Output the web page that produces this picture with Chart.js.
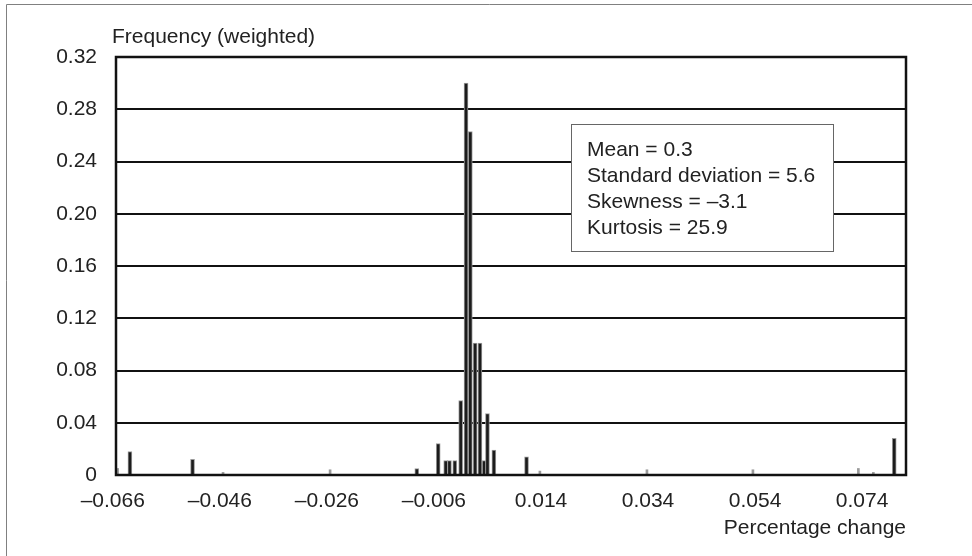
<!DOCTYPE html>
<html>
<head>
<meta charset="utf-8">
<title>Frequency (weighted)</title>
<script src="https://cdn.jsdelivr.net/npm/chart.js@4/dist/chart.umd.min.js"></script>
<style>
    html, body { margin: 0; padding: 0; background: #fff; }
    canvas { display: block; }
</style>
</head>
<body>
<canvas id="histChart" width="972" height="556"></canvas>
<script>
// Percentage change (bar centres) and weighted frequency
const barPos = [-0.0628, -0.0511, -0.0092, -0.0052, -0.0038, -0.0031, -0.0021, -0.0010, 0.0000, 0.0008, 0.0017, 0.0026, 0.0034, 0.0040, 0.0052, 0.0113, 0.0800];
const barFreq = [0.018, 0.012, 0.005, 0.024, 0.011, 0.011, 0.011, 0.057, 0.300, 0.263, 0.101, 0.101, 0.011, 0.047, 0.019, 0.014, 0.028];

// Faint grey bars near the baseline
const tracePos = [-0.0651, -0.0454, -0.0254, 0.0138, 0.0338, 0.0536, 0.0733, 0.0761];
const traceFreq = [0.005, 0.002, 0.004, 0.003, 0.004, 0.004, 0.005, 0.002];

// Tick labels
const xTicks = [-0.066, -0.046, -0.026, -0.006, 0.014, 0.034, 0.054, 0.074];
const yTicks = [0, 0.04, 0.08, 0.12, 0.16, 0.20, 0.24, 0.28, 0.32];

const statsLines = ['Mean = 0.3', 'Standard deviation = 5.6', 'Skewness = \u20133.1', 'Kurtosis = 25.9'];

const FONT = '"Liberation Sans", Arial, Helvetica, sans-serif';

// Frame, axis titles and the stats box
const extras = {
    id: 'extras',
    afterDatasetsDraw(chart) {
        const ctx = chart.ctx;
        const a = chart.chartArea;
        ctx.save();
        ctx.strokeStyle = '#111';
        ctx.lineWidth = 2.5;
        ctx.strokeRect(a.left, a.top, a.right - a.left, a.bottom - a.top);
        ctx.restore();
    },
    afterDraw(chart) {
        const ctx = chart.ctx;
        const a = chart.chartArea;
        ctx.save();

        // outer picture frame
        ctx.strokeStyle = '#808080';
        ctx.lineWidth = 1;
        ctx.beginPath();
        ctx.moveTo(6.5, 556);
        ctx.lineTo(6.5, 4.5);
        ctx.lineTo(972, 4.5);
        ctx.stroke();

        ctx.fillStyle = '#222';
        ctx.font = '21px ' + FONT;
        ctx.textBaseline = 'alphabetic';

        ctx.textAlign = 'left';
        ctx.fillText('Frequency (weighted)', 112, 43);

        ctx.textAlign = 'right';
        ctx.fillText('Percentage change', a.right, 534);

        // stats box
        ctx.fillStyle = '#fff';
        ctx.fillRect(571, 124, 262, 127);
        ctx.strokeStyle = '#666';
        ctx.strokeRect(571.5, 124.5, 262, 127);
        ctx.fillStyle = '#222';
        ctx.textAlign = 'left';
        statsLines.forEach((line, i) => {
            ctx.fillText(line, 587, 155.5 + i * 26.3);
        });
        ctx.restore();
    }
};

const chart = new Chart(document.getElementById('histChart').getContext('2d'), {
    type: 'bar',
    data: {
        datasets: [{
            label: 'Frequency',
            data: barPos.map((x, i) => ({ x: x, y: barFreq[i] })),
            backgroundColor: '#1c1c1c',
            borderColor: '#9a9a9a',
            borderWidth: 1,
            barThickness: 4,
            grouped: false
        }, {
            label: 'Trace',
            data: tracePos.map((x, i) => ({ x: x, y: traceFreq[i] })),
            backgroundColor: '#9a9a9a',
            borderWidth: 0,
            barThickness: 2,
            grouped: false
        }]
    },
    options: {
        responsive: false,
        animation: false,
        layout: { padding: { top: 57, right: 66, left: 0, bottom: 0 } },
        plugins: {
            legend: { display: false },
            tooltip: { enabled: false }
        },
        scales: {
            x: {
                type: 'linear',
                offset: false,
                min: -0.0654,
                max: 0.0822,
                grid: { display: false },
                border: { display: false },
                afterBuildTicks: (scale) => {
                    scale.ticks = xTicks.map(v => ({ value: v }));
                },
                afterFit: (scale) => { scale.height = 81; },
                ticks: {
                    autoSkip: false,
                    maxRotation: 0,
                    padding: 6,
                    color: '#222',
                    font: { family: FONT, size: 21 },
                    callback: (v) => v.toFixed(3).replace('-', '\u2013')
                }
            },
            y: {
                min: 0,
                max: 0.32,
                grid: { color: '#111', lineWidth: 2, drawTicks: false },
                border: { display: false },
                afterBuildTicks: (scale) => {
                    scale.ticks = yTicks.map(v => ({ value: v }));
                },
                afterFit: (scale) => { scale.width = 116; },
                ticks: {
                    padding: 19,
                    color: '#222',
                    font: { family: FONT, size: 21 },
                    callback: (v) => v === 0 ? '0' : v.toFixed(2)
                }
            }
        }
    },
    plugins: [extras]
});
</script>
</body>
</html>
